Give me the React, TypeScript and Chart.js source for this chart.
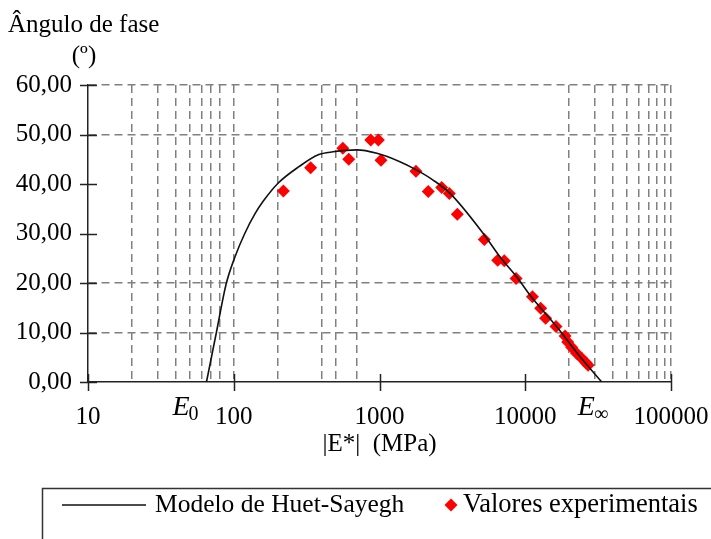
import React, { useEffect, useRef } from "react";
import { Chart, registerables } from "chart.js";

Chart.register(...registerables);

// Huet-Sayegh model curve: |E*| (MPa) vs phase angle (degrees)
const modelModulus = [65, 76, 88.5, 102, 119, 140, 160, 202, 280, 380, 480, 700, 960, 1380, 1750, 2330, 3050, 5150, 6700, 8700, 11000, 16400, 23800, 33500];
const modelPhase = [0, 10, 19.7, 25.3, 30, 34, 36.6, 40.2, 43.5, 45.9, 46.5, 46.9, 46.2, 44.5, 43.0, 40.8, 38.1, 30.0, 25.3, 21.3, 17.2, 11.2, 5.1, 0];

// Experimental results
const testModulus = [219, 337, 560, 615, 871, 982, 1024, 1779, 2161, 2672, 3013, 3420, 5240, 6470, 7180, 8650, 11200, 12760, 13800, 16260, 18750, 19550, 20800, 22500, 24400, 26100, 27000];
const testPhase = [38.6, 43.3, 47.2, 45.0, 48.9, 48.9, 44.8, 42.6, 38.5, 39.3, 38.1, 33.9, 28.8, 24.6, 24.5, 20.9, 17.2, 14.9, 12.9, 11.2, 9.3, 8.1, 7.0, 5.8, 4.8, 3.9, 3.4];

// Axis ticks and grid lines
const xLabelValues = [10, 100, 1000, 10000, 100000];
const xGridValues = [20, 30, 40, 50, 60, 70, 80, 100, 200, 400, 500, 700, 20000, 30000, 40000, 50000, 60000, 70000, 80000, 90000, 100000];
const yTickValues = [0, 10, 20, 30, 40, 50, 60];
const yGridValues = [10, 20, 50, 60];

// Texts
const yTitle = "Ângulo de fase";
const yUnit = "(º)";
const xTitle = "|E*|  (MPa)";
const modelLabel = "Modelo de Huet-Sayegh";
const testLabel = "Valores experimentais";
const eZeroValue = 65;
const eInfValue = 33500;

const FONT = "'Liberation Serif', 'Times New Roman', serif";
const GRID = "#808080";
const AXIS = "#222222";

const overlay = {
  id: "overlay",
  afterDraw(chart: any) {
    const { ctx, scales } = chart;
    const xs = scales.x;
    const ys = scales.y;
    const x0 = xs.left;
    const y0 = ys.bottom;
    ctx.save();

    // tick marks crossing the axes
    ctx.strokeStyle = AXIS;
    ctx.lineWidth = 1.5;
    ctx.setLineDash([]);
    ctx.beginPath();
    for (const v of yTickValues) {
      const py = Math.round(ys.getPixelForValue(v)) + 0.5;
      ctx.moveTo(x0 - 8, py);
      ctx.lineTo(x0 + 9, py);
    }
    for (const v of xLabelValues) {
      const px = Math.round(xs.getPixelForValue(v)) + 0.5;
      ctx.moveTo(px, y0 - 8);
      ctx.lineTo(px, y0 + 9);
    }
    ctx.stroke();

    // axis titles
    ctx.fillStyle = "#000";
    ctx.font = `25px ${FONT}`;
    ctx.textBaseline = "alphabetic";
    ctx.textAlign = "left";
    ctx.fillText(yTitle, 8, 32);
    ctx.textAlign = "center";
    ctx.fillText(yUnit, 84, 63);
    ctx.textBaseline = "middle";
    ctx.fillText(xTitle, xs.getPixelForValue(1000), 444);

    // E0 and E-infinity markers
    const drawE = (value: number, sub: string, dx: number) => {
      const px = xs.getPixelForValue(value) + dx;
      ctx.textAlign = "left";
      ctx.textBaseline = "alphabetic";
      ctx.font = `italic 28px ${FONT}`;
      ctx.fillText("E", px, 415);
      const w = ctx.measureText("E").width;
      ctx.font = `20px ${FONT}`;
      ctx.fillText(sub, px + w - 1, 420);
    };
    drawE(eZeroValue, "0", -34);
    drawE(eInfValue, "∞", -24);

    // legend frame
    ctx.strokeStyle = "#333";
    ctx.lineWidth = 1.5;
    ctx.beginPath();
    ctx.moveTo(42.5, chart.height + 2);
    ctx.lineTo(42.5, 488.5);
    ctx.lineTo(chart.width + 2, 488.5);
    ctx.stroke();

    // legend entries
    const model = chart.data.datasets[0];
    const test = chart.data.datasets[1];
    const ly = 505;
    ctx.strokeStyle = model.borderColor;
    ctx.lineWidth = model.borderWidth;
    ctx.beginPath();
    ctx.moveTo(62, ly);
    ctx.lineTo(146, ly);
    ctx.stroke();
    ctx.fillStyle = "#000";
    ctx.font = `25.5px ${FONT}`;
    ctx.textAlign = "left";
    ctx.textBaseline = "middle";
    ctx.fillText(model.label, 155, ly);

    const r = test.pointRadius;
    const cx = 451;
    ctx.fillStyle = test.pointBackgroundColor;
    ctx.beginPath();
    ctx.moveTo(cx, ly - r);
    ctx.lineTo(cx + r, ly);
    ctx.lineTo(cx, ly + r);
    ctx.lineTo(cx - r, ly);
    ctx.closePath();
    ctx.fill();
    ctx.fillStyle = "#000";
    ctx.font = `26.5px ${FONT}`;
    ctx.fillText(test.label, 463, ly);

    ctx.restore();
  },
};

export default function App() {
  const canvasRef = useRef<HTMLCanvasElement | null>(null);

  useEffect(() => {
    const canvas = canvasRef.current;
    if (!canvas) return;
    const gridXSet = new Set(xGridValues);
    const gridYSet = new Set(yGridValues);
    const labelSet = new Set(xLabelValues);
    const allX = Array.from(new Set([...xLabelValues, ...xGridValues])).sort((a, b) => a - b);

    const chart = new Chart(canvas, {
      type: "scatter",
      data: {
        datasets: [
          {
            label: modelLabel,
            data: modelModulus.map((x, i) => ({ x, y: modelPhase[i] })),
            showLine: true,
            borderColor: "#111111",
            borderWidth: 1.6,
            pointRadius: 0,
            cubicInterpolationMode: "monotone",
          },
          {
            label: testLabel,
            data: testModulus.map((x, i) => ({ x, y: testPhase[i] })),
            showLine: false,
            pointStyle: "rectRot",
            pointRadius: 6.5,
            pointBackgroundColor: "#ff0000",
            pointBorderColor: "#ff0000",
            pointBorderWidth: 0,
          },
        ],
      } as any,
      options: {
        animation: false,
        responsive: false,
        devicePixelRatio: 1,
        layout: { padding: { top: 85, right: 40, left: 0, bottom: 0 } },
        plugins: { legend: { display: false }, tooltip: { enabled: false } },
        scales: {
          x: {
            type: "logarithmic",
            min: 10,
            max: 100000,
            afterBuildTicks: (s: any) => {
              s.ticks = allX.map((v) => ({ value: v }));
            },
            afterFit: (s: any) => {
              s.height = 157;
              s.paddingLeft = 0;
              s.paddingRight = 0;
            },
            grid: {
              color: (c: any) => (c.tick && gridXSet.has(c.tick.value) ? GRID : "rgba(0,0,0,0)"),
              lineWidth: 1.5,
              drawTicks: false,
            },
            border: { color: AXIS, width: 1.5, dash: [8, 5] },
            ticks: {
              autoSkip: false,
              maxRotation: 0,
              padding: 20,
              color: "#000",
              font: { family: FONT, size: 25 },
              callback: (v: any) => (labelSet.has(Number(v)) ? String(v) : ""),
            },
          },
          y: {
            min: 0,
            max: 60,
            afterBuildTicks: (s: any) => {
              s.ticks = yTickValues.map((v) => ({ value: v }));
            },
            afterFit: (s: any) => {
              s.width = 88;
              s.paddingTop = 0;
              s.paddingBottom = 0;
            },
            grid: {
              color: (c: any) => (c.tick && gridYSet.has(c.tick.value) ? GRID : "rgba(0,0,0,0)"),
              lineWidth: 1.5,
              drawTicks: false,
            },
            border: { color: AXIS, width: 1.5, dash: [8, 5] },
            ticks: {
              padding: 16,
              color: "#000",
              font: { family: FONT, size: 25 },
              callback: (v: any) => Number(v).toFixed(2).replace(".", ","),
            },
          },
        },
      } as any,
      plugins: [overlay],
    });
    return () => chart.destroy();
  }, []);

  return (
    <div style={{ position: "absolute", left: 0, top: 0, width: 711, height: 539, background: "#fff" }}>
      <canvas ref={canvasRef} width={711} height={539} style={{ display: "block" }} />
    </div>
  );
}
